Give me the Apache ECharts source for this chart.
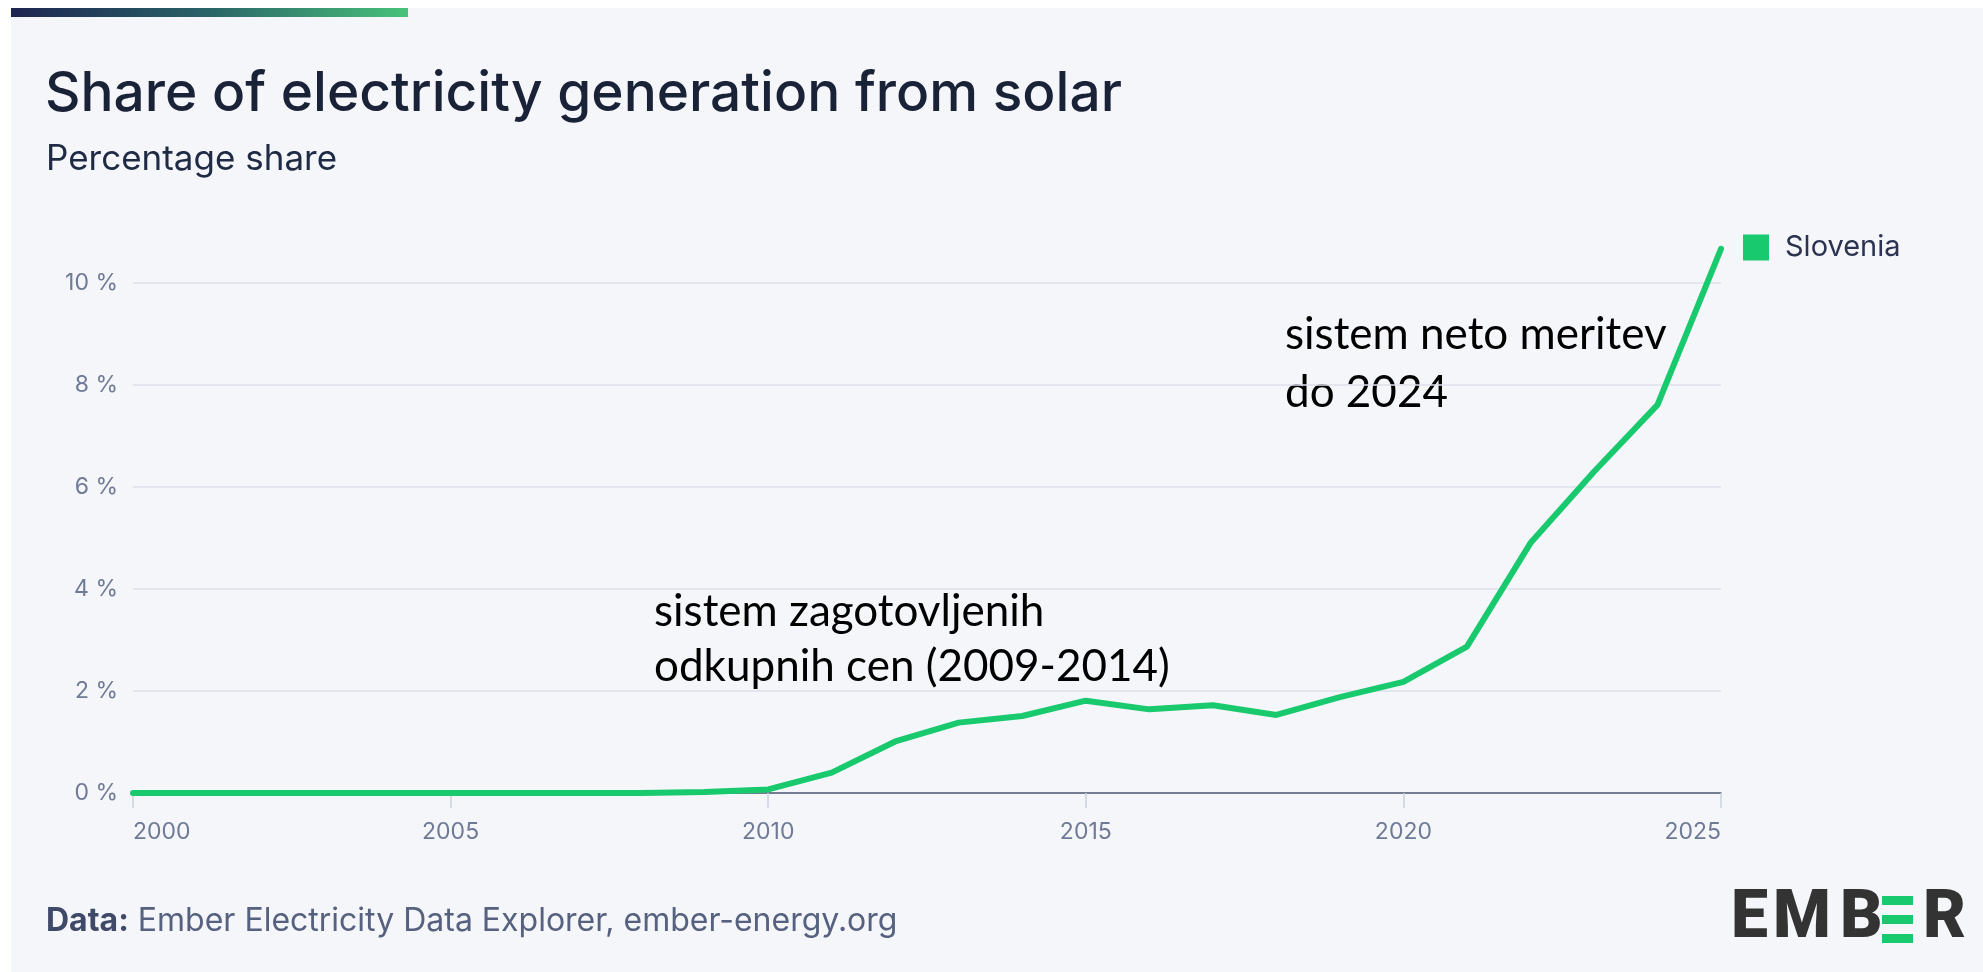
<!DOCTYPE html>
<html>
<head>
<meta charset="utf-8">
<script src="https://cdn.jsdelivr.net/npm/echarts@6/dist/echarts.min.js"></script>
<style>
  html, body { margin: 0; padding: 0; background: #ffffff; }
  #main { width: 1983px; height: 972px; }
</style>
</head>
<body>
<div id="main"></div>
<script>
var years = [2000, 2001, 2002, 2003, 2004, 2005, 2006, 2007, 2008, 2009, 2010, 2011, 2012,
             2013, 2014, 2015, 2016, 2017, 2018, 2019, 2020, 2021, 2022, 2023, 2024, 2025];
var slovenia = [0, 0, 0, 0, 0, 0, 0, 0, 0, 0.02, 0.07, 0.4, 1.01, 1.38, 1.51, 1.81,
                1.64, 1.72, 1.53, 1.88, 2.18, 2.87, 4.9, 6.3, 7.61, 10.67];
var seriesName = 'Slovenia';
var noteLeft = ['sistem zagotovljenih', 'odkupnih cen (2009-2014)'];
var noteRight = ['sistem neto meritev', 'do 2024'];

var points = years.map(function (y, i) { return [y, slovenia[i]]; });

var green = '#18c96e';
var labelColor = '#6e7a96';
var sans = 'Inter, "Noto Sans", sans-serif';

var chart = echarts.init(document.getElementById('main'));
chart.setOption({
    backgroundColor: 'transparent',
    animation: false,
    grid: { left: 133, right: 262, top: 283, bottom: 179 },
    legend: {
        data: [seriesName],
        left: 1743,
        top: 233,
        padding: 0,
        icon: 'rect',
        itemWidth: 26,
        itemHeight: 26,
        textStyle: { fontFamily: sans, fontSize: 29, color: '#2b3350', padding: [0, 0, 0, 11] }
    },
    xAxis: {
        type: 'value',
        min: 2000,
        max: 2025,
        interval: 5,
        axisLine: { show: true, lineStyle: { color: '#4f5a72', width: 1.5 } },
        axisTick: { show: true, length: 15, lineStyle: { color: '#cbd1de', width: 1.5 } },
        axisLabel: {
            color: labelColor, fontFamily: sans, fontSize: 23, margin: 28,
            alignMinLabel: 'left', alignMaxLabel: 'right',
            formatter: function (v) { return String(v); }
        },
        splitLine: { show: false }
    },
    yAxis: {
        type: 'value',
        min: 0,
        max: 10,
        interval: 2,
        axisLine: { show: false },
        axisTick: { show: false },
        axisLabel: { color: labelColor, fontFamily: sans, fontSize: 23, margin: 15, formatter: '{value} %' },
        splitLine: { lineStyle: { color: '#dde1ea', width: 1.5 } }
    },
    series: [
        {
            name: seriesName,
            type: 'line',
            data: points,
            showSymbol: false,
            clip: false,
            color: green,
            lineStyle: { width: 6, color: green, cap: 'round', join: 'round' },
            z: 5
        }
    ],
    graphic: [
        { type: 'rect', left: 11, top: 8, z: -10, shape: { width: 1972, height: 964 }, style: { fill: '#f5f6fa' } },
        {
            type: 'rect', left: 11, top: 8, z: -9, shape: { width: 397, height: 9 },
            style: {
                fill: new echarts.graphic.LinearGradient(0, 0, 1, 0, [
                    { offset: 0, color: '#1d2551' },
                    { offset: 0.5, color: '#2a6468' },
                    { offset: 1, color: '#48c27a' }
                ])
            }
        },
        {
            type: 'text', left: 45, top: 67,
            style: { text: 'Share of electricity generation from solar', fill: '#1a2238',
                     font: '500 55px Inter, "Noto Sans", sans-serif' }
        },
        {
            type: 'text', left: 46, top: 142,
            style: { text: 'Percentage share', fill: '#1f2a44',
                     font: '400 35px Inter, "Noto Sans", sans-serif' }
        },
        {
            type: 'text', left: 654, top: 584,
            style: { text: noteLeft.join('\n'), fill: '#000000', lineHeight: 55,
                     font: '44px Lato, "Open Sans", sans-serif' }
        },
        {
            type: 'text', left: 1285, top: 306,
            style: { text: noteRight.join('\n'), fill: '#000000', lineHeight: 58,
                     font: '44px Lato, "Open Sans", sans-serif' }
        },
        {
            type: 'text', left: 46, top: 905,
            style: {
                text: '{b|Data:} Ember Electricity Data Explorer, ember-energy.org',
                fill: '#56617f',
                font: '400 32px Inter, "Noto Sans", sans-serif',
                rich: { b: { fontWeight: 700, fontSize: 32, fontFamily: sans, fill: '#3f4a68' } }
            }
        },
        { type: 'text', left: 1731, top: 887, style: { text: 'E', fill: '#333333', font: '900 66px Roboto, sans-serif' } },
        { type: 'text', left: 1773, top: 887, style: { text: 'M', fill: '#333333', font: '900 66px Roboto, sans-serif' } },
        { type: 'text', left: 1840, top: 887, style: { text: 'B', fill: '#333333', font: '900 66px Roboto, sans-serif' } },
        { type: 'rect', left: 1882, top: 896, shape: { width: 31, height: 9 }, style: { fill: green } },
        { type: 'rect', left: 1882, top: 915, shape: { width: 31, height: 9 }, style: { fill: green } },
        { type: 'rect', left: 1882, top: 934, shape: { width: 31, height: 9 }, style: { fill: green } },
        { type: 'text', left: 1923, top: 887, style: { text: 'R', fill: '#333333', font: '900 66px Roboto, sans-serif' } }
    ]
});
</script>
</body>
</html>
